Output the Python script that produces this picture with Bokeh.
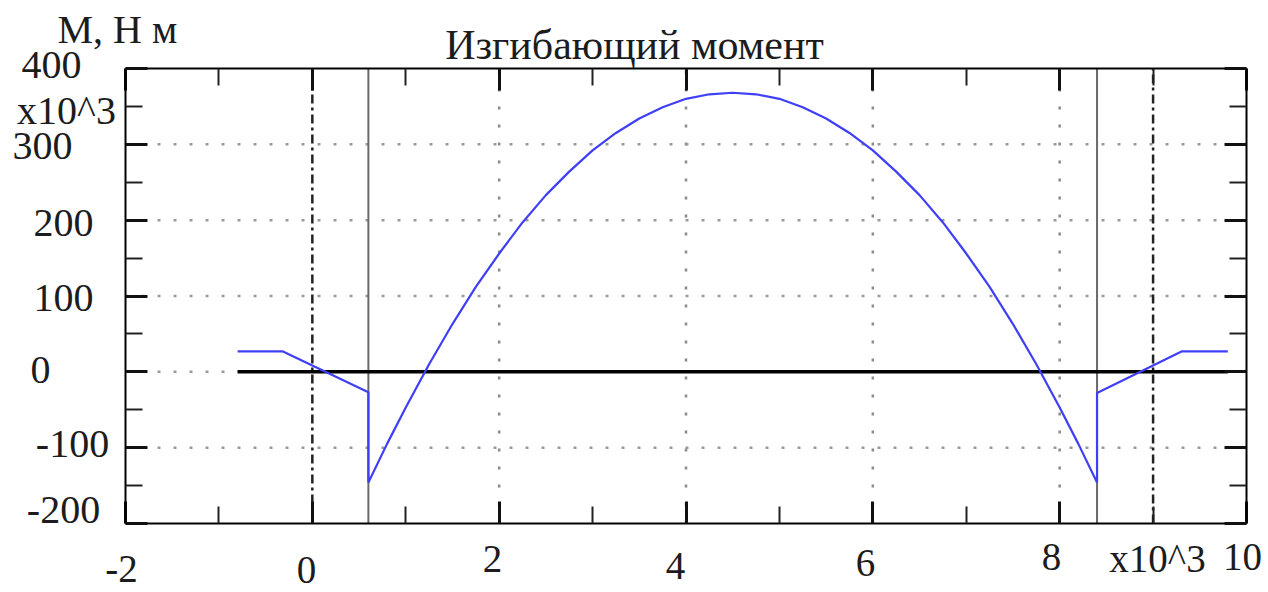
from bokeh.plotting import figure
from bokeh.models import Range1d, LinearAxis, FixedTicker, Label
from bokeh.embed import file_html
from bokeh.resources import INLINE

# ---------------- data ----------------
# x in m x10^3 (mm), M in N·m x10^3
x_curve = [-0.8, -0.32, 0.6, 0.6, 0.8, 1.0, 1.25, 1.5, 1.75, 2.0, 2.25, 2.5,
           2.75, 3.0, 3.25, 3.5, 3.75, 4.0, 4.25, 4.5, 4.75, 5.0, 5.25, 5.5,
           5.75, 6.0, 6.25, 6.5, 6.75, 7.0, 7.25, 7.5, 7.75, 8.0, 8.2, 8.4,
           8.4, 9.31, 9.8]
m_curve = [27, 27, -27, -146, -95, -47, 10, 63, 112, 156, 197, 233,
           264, 292, 315, 334, 349, 360, 366, 368, 366, 360, 349, 334,
           315, 292, 264, 233, 197, 156, 112, 63, 10, -47, -95, -146,
           -28, 27, 27]
beam_x = [-0.8, 9.8]
beam_m = [0, 0]
supports = [0.6, 8.4]
dashdot_lines = [0, 9]

x_min, x_max = -2, 10
y_min, y_max = -200, 400
x_major = [-2, 0, 2, 4, 6, 8, 10]
x_minor = [-1, 1, 3, 5, 7, 9]
y_major = [-200, -100, 0, 100, 200, 300, 400]
y_minor = [-150, -50, 50, 150, 250, 350]
x_grid = [2, 4, 6, 8]
y_grid = [-100, 0, 100, 200, 300]

x_tick_labels = ["-2", "0", "2", "4", "6", "8", "10"]
y_tick_labels = ["400", "300", "200", "100", "0", "-100", "-200"]
title_text = "Изгибающий момент"
y_title = "М, Н м"
scale_text = "x10^3"

# ---------------- layout (pixels) ----------------
W, H = 1268, 592
FL, FT, FR, FB = 125, 68, 1246, 523          # plot box in page pixels
FX = (FR - FL) / (x_max - x_min)
FY = (FB - FT) / (y_max - y_min)
xr = Range1d(x_min - FL / FX, x_max + (W - FR) / FX)
yr = Range1d(y_min - (H - FB) / FY, y_max + FT / FY)


def img(X, Y):
    """page pixel -> data coordinates."""
    return x_min + (X - FL) / FX, y_max - (Y - FT) / FY


FONT = "Liberation Serif"
TXT = "#1c1c1c"
FS = "40px"

p = figure(width=W, height=H, x_range=xr, y_range=yr,
           output_backend="svg", toolbar_location=None,
           x_axis_location=None, y_axis_location=None,
           min_border=0, min_border_left=0, min_border_right=0,
           min_border_top=0, min_border_bottom=0)
p.background_fill_color = "white"
p.border_fill_color = "white"
p.outline_line_color = None
p.grid.visible = False


def make_axis(major, minor, loc, bounds):
    return LinearAxis(ticker=FixedTicker(ticks=major, minor_ticks=minor),
                      fixed_location=loc, bounds=bounds,
                      major_label_overrides={t: "" for t in major},
                      major_label_text_color=None,
                      major_tick_in=22, major_tick_out=0,
                      minor_tick_in=17, minor_tick_out=0,
                      axis_line_width=2, axis_line_color="black",
                      major_tick_line_width=3, major_tick_line_color="#111111",
                      minor_tick_line_width=2, minor_tick_line_color="#222222")


# dotted grid
p.segment(x0=x_grid, y0=[y_min] * len(x_grid), x1=x_grid, y1=[y_max] * len(x_grid),
          line_color="#8a8a8a", line_width=2.5, line_dash="3 15")
p.segment(x0=[x_min] * len(y_grid), y0=y_grid, x1=[x_max] * len(y_grid), y1=y_grid,
          line_color="#9a9a9a", line_width=2.5, line_dash="3 13")

# supports and dash-dot verticals
p.segment(x0=supports, y0=[y_min] * 2, x1=supports, y1=[y_max] * 2,
          line_color="#6a6a6a", line_width=2)
p.segment(x0=dashdot_lines, y0=[y_min] * 2, x1=dashdot_lines, y1=[y_max] * 2,
          line_color="#222222", line_width=2.5, line_dash="9 4 3 4")

p.line(beam_x, beam_m, line_color="black", line_width=3.5)
p.line(x_curve, m_curve, line_color="#3f3ff5", line_width=2.2)

p.add_layout(make_axis(x_major, x_minor, y_min, (x_min, x_max)), "below")
p.add_layout(make_axis(x_major, x_minor, y_max, (x_min, x_max)), "above")
p.add_layout(make_axis(y_major, y_minor, x_min, (y_min, y_max)), "left")
p.add_layout(make_axis(y_major, y_minor, x_max, (y_min, y_max)), "right")


# ---------------- texts ----------------
def add_label(X, Y, text, align="center", baseline="middle", size=FS):
    dx, dy = img(X, Y)
    p.add_layout(Label(x=dx, y=dy, text=text, text_align=align,
                       text_baseline=baseline, text_font=FONT,
                       text_font_size=size, text_color=TXT))


add_label(634, 44, title_text, size="42px")
add_label(57, 29, y_title, align="left")

y_label_pos = [(51, 64), (42, 145), (63, 222), (63, 297), (40, 369),
               (72, 443), (63, 509)]
for t, (X, Y) in zip(y_tick_labels, y_label_pos):
    add_label(X, Y, t)
add_label(66, 110, scale_text)

x_label_pos = [(121, 568), (306, 569), (492, 558), (675, 565), (865, 562),
               (1051, 556), (1242, 556)]
for t, (X, Y) in zip(x_tick_labels, x_label_pos):
    add_label(X, Y, t, size="39px")
add_label(1157, 558, scale_text, size="39px")

open("out.html", "w").write(file_html(p, INLINE))
